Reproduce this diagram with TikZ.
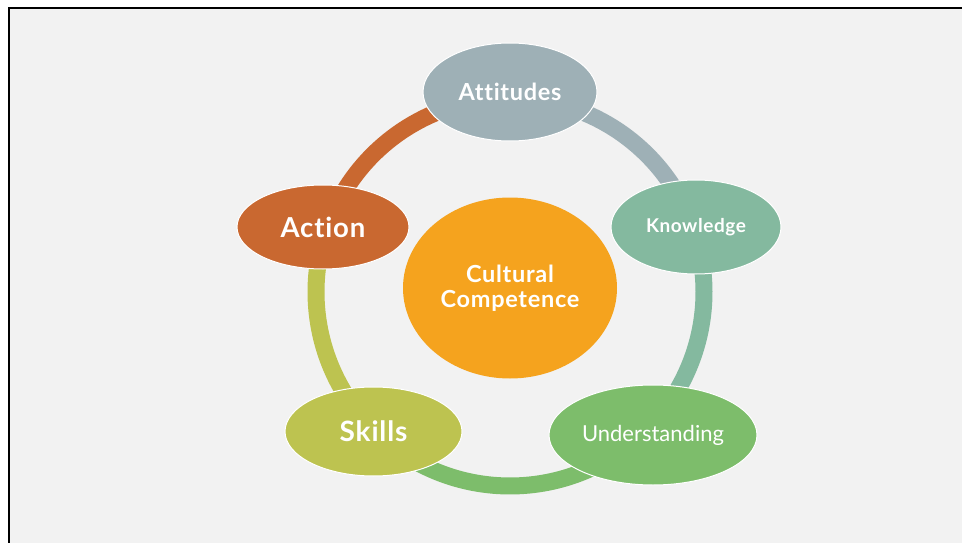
\documentclass[tikz,border=0pt]{standalone}
\usepackage{fontspec}
\setmainfont{Lato}[Ligatures=NoCommon, BoldFeatures={LetterSpace=3}]
\usetikzlibrary{shapes.geometric}
\definecolor{bgc}{HTML}{F2F2F2}
\definecolor{attc}{HTML}{9EB0B6}
\definecolor{knoc}{HTML}{84B99F}
\definecolor{undc}{HTML}{7DBD6B}
\definecolor{skic}{HTML}{BDC350}
\definecolor{actc}{HTML}{C96830}
\definecolor{cenc}{HTML}{F5A31E}
\tikzset{
  blob/.style={ellipse, draw=white, line width=1pt, inner sep=0pt, text=white, align=center},
  ring/.style={line width=17pt, line cap=butt},
}
\begin{document}
\begin{tikzpicture}[x=1pt,y=-1pt]
\useasboundingbox (0,0) rectangle (962,543);
\fill[white] (0,0) rectangle (962,543);
\fill[bgc] (9,8) rectangle (962,543);
\draw[line width=2pt] (9,543) -- (9,8) -- (962,8);
% ring centre
\coordinate (rc) at (510,292);
\path (rc) ++(0,-194) coordinate (pAtt);
\path (rc) ++({194*cos(19.5)},{-194*sin(19.5)}) coordinate (pKno);
\path (rc) ++({194*cos(-45)},{-194*sin(-45)}) coordinate (pUnd);
\path (rc) ++({194*cos(-134.4)},{-194*sin(-134.4)}) coordinate (pSki);
\path (rc) ++({194*cos(160.8)},{-194*sin(160.8)}) coordinate (pAct);
\draw[ring, attc] (pAtt) arc[start angle=-90, end angle=-19.5, radius=194];
\draw[ring, knoc] (pKno) arc[start angle=-19.5, end angle=45, radius=194];
\draw[ring, undc] (pUnd) arc[start angle=45, end angle=134.4, radius=194];
\draw[ring, skic] (pSki) arc[start angle=134.4, end angle=199.2, radius=194];
\draw[ring, actc] (pAct) arc[start angle=199.2, end angle=270, radius=194];
% nodes
\node[blob, fill=attc, minimum width=174pt, minimum height=98pt, font=\bfseries\fontsize{23.5}{27}\selectfont] (att) at (510,92) {Attitudes};
\node[blob, fill=knoc, minimum width=170pt, minimum height=94pt, font=\bfseries\fontsize{19}{23}\selectfont] (kno) at (696,227) {Knowledge};
\node[blob, fill=undc, minimum width=208pt, minimum height=100pt, font=\fontsize{22}{26}\selectfont] (und) at (653,435) {Understanding};
\node[blob, fill=skic, minimum width=177pt, minimum height=89pt, font=\bfseries\fontsize{28}{32}\selectfont] (ski) at (373.5,431.5) {Skills};
\node[blob, fill=actc, minimum width=172pt, minimum height=84pt, font=\bfseries\fontsize{27.5}{31}\selectfont] (act) at (323,227) {Action};
\node[ellipse, fill=cenc, inner sep=0pt, minimum width=214pt, minimum height=181pt, text=white, align=center, font=\bfseries\fontsize{23.5}{25}\selectfont] (cen) at (510,288) {Cultural\\Competence};
\end{tikzpicture}
\end{document}
